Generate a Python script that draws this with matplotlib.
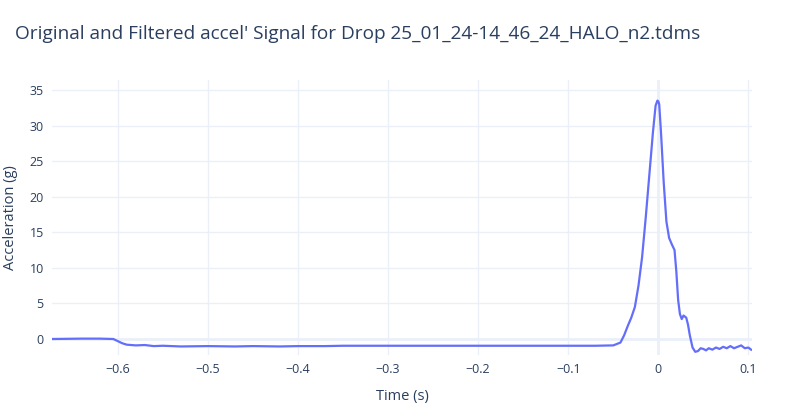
import matplotlib
matplotlib.use("Agg")
import matplotlib.pyplot as plt

plt.rcParams["font.family"] = ["Open Sans", "DejaVu Sans"]

# Filtered accel signal
time_s = [-0.673, -0.64, -0.62, -0.605, -0.6, -0.595, -0.59, -0.58, -0.57, -0.56, -0.55,
          -0.53, -0.5, -0.47, -0.45, -0.42, -0.4, -0.37, -0.35, -0.3, -0.25, -0.2,
          -0.15, -0.1, -0.07, -0.05, -0.042, -0.038, -0.034, -0.03, -0.026, -0.022,
          -0.018, -0.014, -0.01, -0.006, -0.003, -0.001, 0.0, 0.001, 0.003, 0.006,
          0.009, 0.012, 0.015, 0.018, 0.02, 0.022, 0.024, 0.026, 0.028, 0.031,
          0.033, 0.035, 0.038, 0.041, 0.044, 0.047, 0.05, 0.053, 0.056, 0.06,
          0.064, 0.068, 0.072, 0.076, 0.08, 0.084, 0.088, 0.092, 0.096, 0.1, 0.103]
accel_g = [0.0, 0.05, 0.05, 0.0, -0.3, -0.6, -0.8, -0.9, -0.85, -1.0, -0.95,
           -1.05, -1.0, -1.05, -1.0, -1.05, -1.0, -1.0, -0.95, -0.95, -0.95, -0.95,
           -0.95, -0.95, -0.95, -0.9, -0.5, 0.5, 1.8, 3.0, 4.5, 7.5,
           11.5, 17.0, 23.0, 29.0, 32.8, 33.5, 33.4, 33.0, 29.0, 22.0,
           16.5, 14.2, 13.3, 12.5, 9.5, 5.5, 3.5, 2.8, 3.3, 3.0,
           2.0, 0.5, -1.2, -1.8, -1.7, -1.3, -1.4, -1.6, -1.3, -1.5,
           -1.2, -1.4, -1.1, -1.3, -1.0, -1.3, -1.1, -0.9, -1.3, -1.2, -1.5]

TEXT = "#2a3f5f"
GRID = "#ebf0f8"

fig = plt.figure(figsize=(7.86, 4.17), dpi=100)
ax = fig.add_axes([52 / 786, 1 - 355 / 417, 700 / 786, 275 / 417])
ax.plot(time_s, accel_g, color="#636efa", lw=1.6)

ax.set_xlim(-0.673, 0.104)
ax.set_ylim(-2.25, 36.4)
ax.set_xticks([-0.6, -0.5, -0.4, -0.3, -0.2, -0.1, 0, 0.1])
ax.set_xticklabels(["\u22120.6", "\u22120.5", "\u22120.4", "\u22120.3", "\u22120.2", "\u22120.1", "0", "0.1"])
ax.set_yticks(range(0, 36, 5))
ax.grid(True, color=GRID, lw=1)
ax.axhline(0, color=GRID, lw=2, zorder=0)
ax.axvline(0, color=GRID, lw=2, zorder=0)
ax.set_axisbelow(True)
for s in ax.spines.values():
    s.set_visible(False)
ax.tick_params(length=0, colors=TEXT, labelsize=9, pad=6)
ax.set_xlabel("Time (s)", color=TEXT, fontsize=10.5, labelpad=9)
ax.set_ylabel("Acceleration (g)", color=TEXT, fontsize=10.5, labelpad=8)
fig.text(15 / 786, 1 - 34 / 417, "Original and Filtered accel' Signal for Drop 25_01_24-14_46_24_HALO_n2.tdms",
         color=TEXT, fontsize=13.7, va="center")
fig.savefig("out.png", dpi=100)
